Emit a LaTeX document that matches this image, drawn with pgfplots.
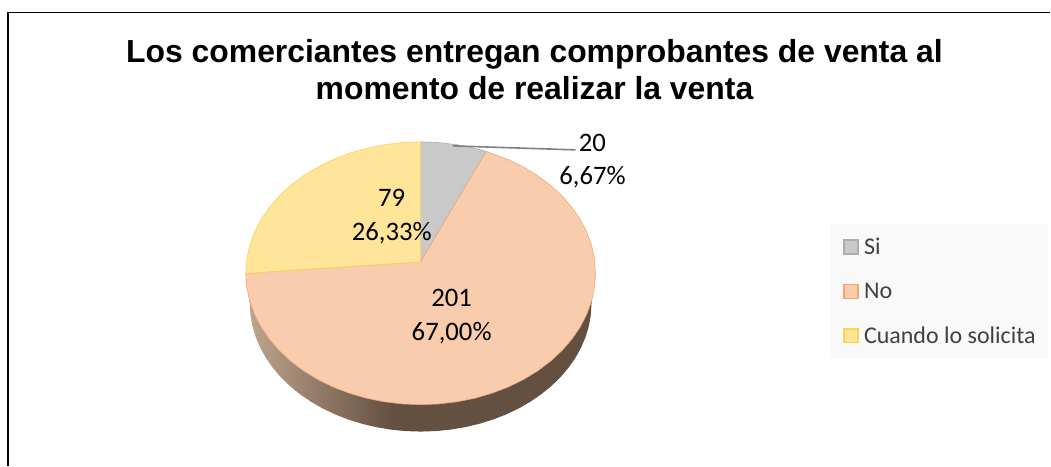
\documentclass[border=0pt]{standalone}
\usepackage{fontspec}
\setmainfont{Carlito}
\newfontfamily\arialfont{Liberation Sans}
\usepackage{pgfplots}
\pgfplotsset{compat=1.18}

\definecolor{siFill}{HTML}{C9C9C9}
\definecolor{siLine}{HTML}{ADADAD}
\definecolor{noFill}{HTML}{F9CCAE}
\definecolor{noLine}{HTML}{F0A878}
\definecolor{cuFill}{HTML}{FFE599}
\definecolor{cuLine}{HTML}{FFD34D}
\definecolor{legBack}{HTML}{F9F9F9}
\definecolor{legText}{HTML}{404040}
\definecolor{sideA}{HTML}{BFA78F}
\definecolor{sideB}{HTML}{8C7462}
\definecolor{sideC}{HTML}{635040}

\pgfdeclarehorizontalshading{pieside}{100bp}{
  color(0bp)=(sideA); color(25bp)=(sideA); color(37bp)=(sideB);
  color(46bp)=(sideC); color(100bp)=(sideC)}

\begin{document}
\begin{tikzpicture}
\begin{axis}[
  scale only axis,
  width=1051pt, height=466pt,
  xmin=-2.40571, xmax=3.6,
  ymin=-1.46388, ymax=2.07985,
  hide axis,
  clip=false,
  legend style={
    at={(0.7916,0.5193)}, anchor=north west,
    draw=none, fill=legBack,
    inner xsep=12pt, inner ysep=14pt,
    row sep=27pt,
    font=\fontsize{24}{24}\selectfont\color{legText},
    cells={anchor=west},
    nodes={inner sep=0pt, outer sep=0pt},
  },
  legend cell align=left,
  legend image code/.code={
    \draw[#1, line width=1.2pt] (0pt,-7pt) rectangle (14pt,7pt);
    \path[draw=none, fill=none] (0pt,0pt) -- (20pt,0pt);
  },
]
% keeps the page the size of the reference
\path[fill=white] (rel axis cs:0,0) rectangle (rel axis cs:1,1);

% outer frame, open to the right and at the bottom
\addplot[black, line width=1.8pt, forget plot] coordinates {
  (3.6,1.98479) (-2.36,1.98479) (-2.36,-1.46388)};

% side wall of the pie
\addplot[shade, shading=pieside, draw=none, forget plot] coordinates {
  (-1,0) (-.977,-.232) (-.9733,-.3168) (-.9622,-.4009) (-.9437,-.4838)
  (-.9181,-.5648) (-.8855,-.6432) (-.8461,-.7185) (-.8004,-.7901)
  (-.7484,-.8574) (-.6908,-.92) (-.628,-.9773) (-.5604,-1.0291)
  (-.4885,-1.0746) (-.4129,-1.1138) (-.3341,-1.1463) (-.2528,-1.1718)
  (-.1696,-1.1902) (-.0852,-1.2013) (0,-1.205)
  (.0852,-1.2013) (.1696,-1.1902) (.2528,-1.1718) (.3341,-1.1463)
  (.4129,-1.1138) (.4885,-1.0746) (.5604,-1.0291) (.628,-.9773)
  (.6908,-.92) (.7484,-.8574) (.8004,-.7901) (.8461,-.7185)
  (.8855,-.6432) (.9181,-.5648) (.9437,-.4838) (.9622,-.4009)
  (.9733,-.3168) (.977,-.232) (1,0)};

% slices: (angle, radius); the apex sits a little above the rim's centre
\addplot[data cs=polar, fill=siFill, draw=siLine, line width=.6pt] coordinates {
  (90,.0875) (90,1) (84,1) (78,1) (72,1) (68,1) (90,.0875)};
\addlegendentry{Si}

\addplot[data cs=polar, fill=noFill, draw=noLine, line width=.6pt] coordinates {
  (90,.0875) (68,1) (60,1) (54,1) (48,1) (42,1) (36,1) (30,1) (24,1) (18,1)
  (12,1) (6,1) (0,1) (-6,1) (-12,1) (-18,1) (-24,1) (-30,1) (-36,1) (-42,1)
  (-48,1) (-54,1) (-60,1) (-66,1) (-72,1) (-78,1) (-84,1) (-90,1) (-96,1)
  (-102,1) (-108,1) (-114,1) (-120,1) (-126,1) (-132,1) (-138,1) (-144,1)
  (-150,1) (-156,1) (-162,1) (-168,1) (-174,1) (-180,1) (90,.0875)};
\addlegendentry{No}

\addplot[data cs=polar, fill=cuFill, draw=cuLine, line width=.6pt] coordinates {
  (90,.0875) (180,1) (174,1) (168,1) (162,1) (156,1) (150,1) (144,1) (138,1)
  (132,1) (126,1) (120,1) (114,1) (108,1) (102,1) (96,1) (90,1) (90,.0875)};
\addlegendentry{Cuando lo solicita}

% leader line of the smallest slice
\addplot[gray, line width=1.6pt, forget plot] coordinates {
  (.18286,.96958) (.88571,.93916)};

\node[align=center, font=\arialfont\bfseries\fontsize{31.9}{37}\selectfont]
  at (rel axis cs:.5090,.8509)
  {Los comerciantes entregan comprobantes de venta al\\momento de realizar la venta};
\node[align=center, font=\fontsize{26.7}{33.5}\selectfont]
  at (rel axis cs:.5642,.6545) {20\\6,67\%};
\node[align=center, font=\fontsize{26.7}{33.5}\selectfont]
  at (rel axis cs:.3730,.5344) {79\\26,33\%};
\node[align=center, font=\fontsize{26.7}{33.5}\selectfont]
  at (rel axis cs:.4301,.3198) {201\\67,00\%};
\end{axis}
\end{tikzpicture}
\end{document}
